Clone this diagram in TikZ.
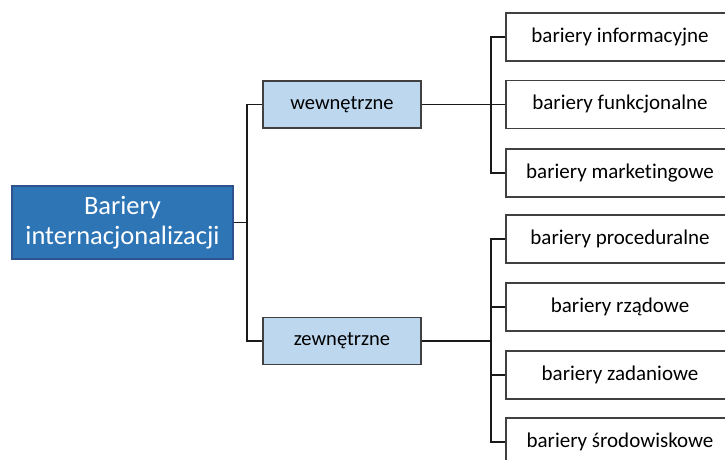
\documentclass[tikz,border=0pt]{standalone}
\usepackage{fontspec}
\setmainfont{Carlito}[Ligatures=NoCommon]
\definecolor{mainfill}{HTML}{2E75B6}
\definecolor{mainedge}{HTML}{2F528F}
\definecolor{subfill}{HTML}{BDD7EE}
\definecolor{boxedge}{HTML}{404040}
\definecolor{linecol}{HTML}{1A1A1A}
\begin{document}
\begin{tikzpicture}[x=1pt,y=-1pt,
  rootbox/.style={draw=mainedge, fill=mainfill, line width=1.2pt, text=white,
    minimum width=221pt, minimum height=73pt, inner sep=0pt, align=center,
    font=\fontsize{26.5}{30}\selectfont},
  groupbox/.style={draw=boxedge, fill=subfill, line width=1.2pt,
    minimum width=158pt, minimum height=47pt, inner sep=0pt,
    font=\fontsize{20.5}{24}\selectfont},
  leafbox/.style={draw=boxedge, fill=white, line width=1.2pt,
    minimum width=228pt, minimum height=48pt, inner sep=0pt,
    font=\fontsize{21}{24}\selectfont},
  link/.style={draw=linecol, line width=1.2pt}]
\useasboundingbox (0,0) rectangle (725,459);
\clip (0,0) rectangle (725,459);

% root and the two groups
\node[rootbox] (root) at (122.5,222.5) {Bariery\\internacjonalizacji};
\node[groupbox] (wew) at (342,104.5) {wewnętrzne};
\node[groupbox] (zew) at (342,341) {zewnętrzne};

% internal barriers
\node[leafbox] (b1) at (620,37) {bariery informacyjne};
\node[leafbox] (b2) at (620,104.5) {bariery funkcjonalne};
\node[leafbox] (b3) at (620,173) {bariery marketingowe};

% external barriers
\node[leafbox] (c1) at (620,239) {bariery proceduralne};
\node[leafbox] (c2) at (620,307) {bariery rządowe};
\node[leafbox] (c3) at (620,375) {bariery zadaniowe};
\node[leafbox] (c4) at (620,442) {bariery środowiskowe};

% bracket joints
\coordinate (s1) at (247,222.5);
\coordinate (s2) at (491,104.5);
\coordinate (s3) at (491,341);

% root to groups
\draw[link] (root.east) -- (s1);
\draw[link] (wew.west) -| (s1) |- (zew.west);

% internal group to leaves
\draw[link] (wew.east) -- (s2);
\draw[link] (b1.west) -| (s2) |- (b3.west);
\draw[link] (s2) -- (b2.west);

% external group to leaves
\draw[link] (zew.east) -- (s3);
\draw[link] (c1.west) -| (s3) |- (c4.west);
\draw[link] (c2.west) -| (s3);
\draw[link] (c3.west) -| (s3);
\end{tikzpicture}
\end{document}
